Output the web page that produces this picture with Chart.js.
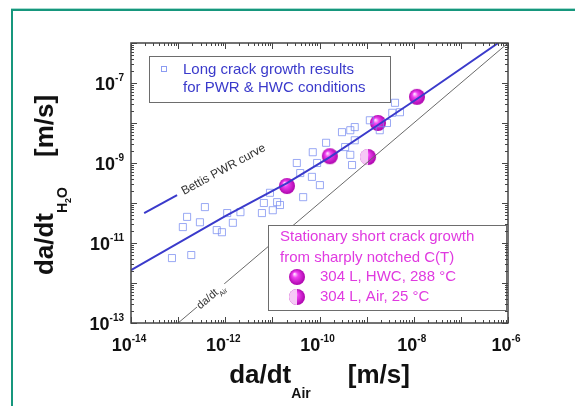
<!DOCTYPE html>
<html><head><meta charset="utf-8">
<script src="https://cdn.jsdelivr.net/npm/chart.js@4/dist/chart.umd.min.js"></script>
<style>html,body{margin:0;padding:0;background:#fff;}canvas{display:block}</style>
</head><body>
<canvas id="c" width="575" height="406"></canvas>
<script>
// ---- data (m/s) ----
const xTickExponents = [-14, -12, -10, -8, -6];
const yTickExponents = [-13, -11, -9, -7];
const longCrackX = [7.4e-14,1.9e-13,1.26e-13,1.55e-13,2.9e-13,3.7e-13,6.6e-13,8.5e-13,1.1e-12,1.45e-12,2.1e-12,6.0e-12,6.6e-12,8.9e-12,1.02e-11,1.26e-11,1.45e-11,4.5e-11,3.3e-11,3.9e-11,6.9e-11,8.9e-11,1.02e-10,7.2e-11,1.38e-10,3.0e-10,4.5e-10,5.6e-10,3.5e-10,4.5e-10,4.9e-10,5.6e-10,1.17e-9,1.9e-9,3.5e-9,2.7e-9,4.0e-9,5.1e-9];
const longCrackY = [4.2e-12,5.0e-12,2.5e-11,4.5e-11,3.3e-11,7.9e-11,2.1e-11,1.86e-11,5.6e-11,3.2e-11,5.9e-11,5.6e-11,1.0e-10,1.8e-10,6.6e-11,1.05e-10,8.9e-11,1.4e-10,1.0e-9,5.6e-10,4.5e-10,1.0e-9,2.8e-10,1.86e-9,3.2e-9,5.9e-9,6.6e-9,7.9e-9,2.5e-9,1.6e-9,8.9e-10,3.7e-9,1.17e-8,6.6e-9,1.8e-8,1.0e-8,3.2e-8,1.86e-8];
const hwcX = [2.04e-11, 1.66e-10, 1.74e-9, 1.17e-8];
const hwcY = [2.66e-10, 1.48e-9, 1.0e-8, 4.5e-8];
const airX = [1.07e-9];
const airY = [1.41e-9];
const fitX = [1e-14, 1e-12, 2.04e-11, 1.66e-10, 1.74e-9, 1.35e-8, 6.2e-7];
const fitY = [2.1e-12, 4.7e-11, 3.16e-10, 1.41e-9, 8.9e-9, 4.47e-8, 1e-6];
const bettisX = [1.9e-14, 9.5e-14];
const bettisY = [5.6e-11, 1.58e-10];
const identityX = [1e-13, 1e-6];
const identityY = [1e-13, 1e-6];
const identityLabelAt = 2.6e-13;

const pts = (xs, ys) => xs.map((x, i) => ({x, y: ys[i]}));
const FONT = '"Liberation Sans", Arial, Helvetica, sans-serif';
const BLUE = '#3a3acb';
const MAG = '#e03ae0';

function sphere(half) {
  const c = document.createElement('canvas');
  c.width = 18; c.height = 18;
  const g = c.getContext('2d');
  const grad = g.createRadialGradient(6.5, 6, 0.5, 9, 9, 8.5);
  grad.addColorStop(0, '#ffd8ff');
  grad.addColorStop(0.3, '#f040f0');
  grad.addColorStop(1, '#a800a8');
  g.beginPath(); g.arc(9, 9, 8, 0, Math.PI * 2); g.fillStyle = grad; g.fill();
  if (half) {
    g.beginPath(); g.arc(9, 9, 8, Math.PI / 2, Math.PI * 1.5); g.closePath();
    g.fillStyle = '#f6c8f6'; g.fill();
  }
  return c;
}
const sphereFull = sphere(false);
const sphereHalf = sphere(true);

function drawRuns(ctx, runs, x, y) {
  let cx = x;
  for (const r of runs) {
    ctx.font = r.font;
    ctx.fillText(r.t, cx, y + (r.dy || 0));
    cx += ctx.measureText(r.t).width + (r.gap || 0);
  }
  return cx - x;
}
function runsWidth(ctx, runs) {
  let w = 0;
  for (const r of runs) { ctx.font = r.font; w += ctx.measureText(r.t).width + (r.gap || 0); }
  return w;
}
function powRuns(e) {
  return [{t: '10', font: 'bold 18px ' + FONT}, {t: '-' + Math.abs(e), font: 'bold 10px ' + FONT, dy: -9}];
}

const deco = {
  id: 'deco',
  beforeDraw(chart) {
    const ctx = chart.ctx;
    ctx.save();
    ctx.fillStyle = '#fff'; ctx.fillRect(0, 0, chart.width, chart.height);
    ctx.fillStyle = '#a8dcd0'; ctx.fillRect(11, 8, chart.width - 11, 1);
    ctx.fillStyle = '#16977d';
    ctx.fillRect(11, 9, chart.width - 11, 2);
    ctx.fillRect(11, 9, 2, chart.height - 9);
    ctx.restore();
  },
  afterDatasetsDraw(chart) {
    const ctx = chart.ctx, a = chart.chartArea;
    const xs = chart.scales.x, ys = chart.scales.y;
    ctx.save();

    // Bettis label along its segment
    const b0 = {x: xs.getPixelForValue(bettisX[0]), y: ys.getPixelForValue(bettisY[0])};
    const b1 = {x: xs.getPixelForValue(bettisX[1]), y: ys.getPixelForValue(bettisY[1])};
    const ang = Math.atan2(b1.y - b0.y, b1.x - b0.x);
    ctx.save();
    ctx.translate(b1.x + 6 * Math.cos(ang), b1.y + 6 * Math.sin(ang));
    ctx.rotate(ang);
    ctx.fillStyle = '#333'; ctx.textBaseline = 'middle'; ctx.textAlign = 'left';
    ctx.font = '12px ' + FONT;
    ctx.fillText('Bettis PWR curve', 0, 0);
    ctx.restore();

    // identity label
    const i0 = {x: xs.getPixelForValue(identityX[0]), y: ys.getPixelForValue(identityY[0])};
    const i1 = {x: xs.getPixelForValue(identityX[1]), y: ys.getPixelForValue(identityY[1])};
    const ia = Math.atan2(i1.y - i0.y, i1.x - i0.x);
    ctx.save();
    ctx.translate(xs.getPixelForValue(identityLabelAt), ys.getPixelForValue(identityLabelAt));
    ctx.rotate(ia);
    const idRuns = [{t: 'da/dt', font: '11px ' + FONT}, {t: 'Air', font: '7px ' + FONT, dy: 4}];
    const iw = runsWidth(ctx, idRuns);
    ctx.fillStyle = '#fff'; ctx.fillRect(-1, -6, iw + 3, 13);
    ctx.fillStyle = '#333'; ctx.textBaseline = 'alphabetic';
    drawRuns(ctx, idRuns, 0, 4);
    ctx.restore();

    // legend 1
    const L1 = {x: a.left + 18, y: a.top + 13, w: 241, h: 46};
    ctx.fillStyle = '#fff'; ctx.fillRect(L1.x, L1.y, L1.w, L1.h);
    ctx.strokeStyle = '#6d6d6d'; ctx.lineWidth = 1;
    ctx.strokeRect(L1.x + 0.5, L1.y + 0.5, L1.w, L1.h);
    ctx.strokeStyle = '#8c9cf2'; ctx.strokeRect(L1.x + 12.5, L1.y + 10.5, 5, 5);
    ctx.fillStyle = BLUE; ctx.font = '15px ' + FONT; ctx.textBaseline = 'middle'; ctx.textAlign = 'left';
    ctx.fillText('Long crack growth results', L1.x + 34, L1.y + 14);
    ctx.fillText('for PWR & HWC conditions', L1.x + 34, L1.y + 32);

    // legend 2
    const L2 = {x: a.left + 137, y: a.top + 182, w: 238, h: 85};
    ctx.fillStyle = '#fff'; ctx.fillRect(L2.x, L2.y, L2.w, L2.h);
    ctx.strokeStyle = '#6d6d6d'; ctx.strokeRect(L2.x + 0.5, L2.y + 0.5, L2.w, L2.h);
    ctx.fillStyle = MAG; ctx.font = '15px ' + FONT;
    ctx.fillText('Stationary short crack growth', L2.x + 12, L2.y + 12);
    ctx.fillText('from sharply notched C(T)', L2.x + 12, L2.y + 33);
    ctx.drawImage(sphereFull, L2.x + 29 - 9, L2.y + 52 - 9);
    ctx.drawImage(sphereHalf, L2.x + 29 - 9, L2.y + 72 - 9);
    ctx.fillText('304 L, HWC, 288 °C', L2.x + 52, L2.y + 52);
    ctx.fillText('304 L, Air, 25 °C', L2.x + 52, L2.y + 72);

    // frame
    ctx.strokeStyle = '#444'; ctx.lineWidth = 1.5;
    ctx.strokeRect(a.left, a.top, a.right - a.left, a.bottom - a.top);
    // ticks (inward, all sides)
    ctx.lineWidth = 1; ctx.strokeStyle = '#444';
    ctx.beginPath();
    for (let d = xs.min; d < xs.max * 1.0001; d *= 10) {
      for (let m = 1; m <= 9; m++) {
        const v = d * m; if (v > xs.max * 1.0001) break;
        const px = Math.round(xs.getPixelForValue(v)) + 0.5, len = m === 1 ? 6 : 3;
        ctx.moveTo(px, a.bottom); ctx.lineTo(px, a.bottom - len);
        ctx.moveTo(px, a.top); ctx.lineTo(px, a.top + len);
      }
    }
    for (let d = ys.min; d < ys.max * 1.0001; d *= 10) {
      for (let m = 1; m <= 9; m++) {
        const v = d * m; if (v > ys.max * 1.0001) break;
        const py = Math.round(ys.getPixelForValue(v)) + 0.5, len = m === 1 ? 6 : 3;
        ctx.moveTo(a.left, py); ctx.lineTo(a.left + len, py);
        ctx.moveTo(a.right, py); ctx.lineTo(a.right - len, py);
      }
    }
    ctx.stroke();

    // tick labels
    ctx.fillStyle = '#111'; ctx.textBaseline = 'alphabetic'; ctx.textAlign = 'left';
    for (const e of xTickExponents) {
      const r = powRuns(e), w = runsWidth(ctx, r);
      drawRuns(ctx, r, xs.getPixelForValue(Math.pow(10, e)) - w / 2 - 2, a.bottom + 28);
    }
    for (const e of yTickExponents) {
      const r = powRuns(e), w = runsWidth(ctx, r);
      drawRuns(ctx, r, a.left - 7 - w, ys.getPixelForValue(Math.pow(10, e)) + 7);
    }

    // axis titles
    ctx.fillStyle = '#111';
    const xt = [{t: 'da/dt', font: 'bold 26px ' + FONT}, {t: 'Air', font: 'bold 14px ' + FONT, dy: 15, gap: 37},
                {t: '[m/s]', font: 'bold 26px ' + FONT}];
    const xw = runsWidth(ctx, xt);
    drawRuns(ctx, xt, (a.left + a.right) / 2 - xw / 2, a.bottom + 60);

    const yt = [{t: 'da/dt', font: 'bold 26px ' + FONT}, {t: 'H', font: 'bold 14px ' + FONT, dy: 14},
                {t: '2', font: 'bold 9px ' + FONT, dy: 18}, {t: 'O', font: 'bold 14px ' + FONT, dy: 14, gap: 30},
                {t: '[m/s]', font: 'bold 26px ' + FONT}];
    const yw = runsWidth(ctx, yt);
    ctx.save();
    ctx.translate(53, (a.top + a.bottom) / 2 + 2 + yw / 2);
    ctx.rotate(-Math.PI / 2);
    drawRuns(ctx, yt, 0, 0);
    ctx.restore();

    ctx.restore();
  }
};

new Chart(document.getElementById('c'), {
  type: 'scatter',
  data: {
    datasets: [
      {label: 'da/dt Air', data: pts(identityX, identityY), showLine: true, borderColor: '#6a6a6a', borderWidth: 1, pointRadius: 0},
      {label: 'Fit', data: pts(fitX, fitY), showLine: true, borderColor: BLUE, borderWidth: 2, pointRadius: 0},
      {label: 'Bettis PWR curve', data: pts(bettisX, bettisY), showLine: true, borderColor: BLUE, borderWidth: 2, pointRadius: 0},
      {label: 'Long crack growth results for PWR & HWC conditions', data: pts(longCrackX, longCrackY),
       pointStyle: 'rect', pointRadius: 5, borderColor: 'rgba(120,140,240,0.75)', borderWidth: 1, backgroundColor: 'rgba(0,0,0,0)'},
      {label: '304 L, HWC, 288 °C', data: pts(hwcX, hwcY), pointStyle: sphereFull, pointRadius: 9},
      {label: '304 L, Air, 25 °C', data: pts(airX, airY), pointStyle: sphereHalf, pointRadius: 9}
    ]
  },
  options: {
    responsive: false, animation: false, devicePixelRatio: 1,
    layout: {padding: {left: 131, right: 67, top: 43, bottom: 83}},
    plugins: {legend: {display: false}, tooltip: {enabled: false}},
    scales: {
      x: {type: 'logarithmic', min: 1e-14, max: 1e-6, display: false},
      y: {type: 'logarithmic', min: 1e-13, max: 1e-6, display: false}
    }
  },
  plugins: [deco]
});
</script>
</body></html>
